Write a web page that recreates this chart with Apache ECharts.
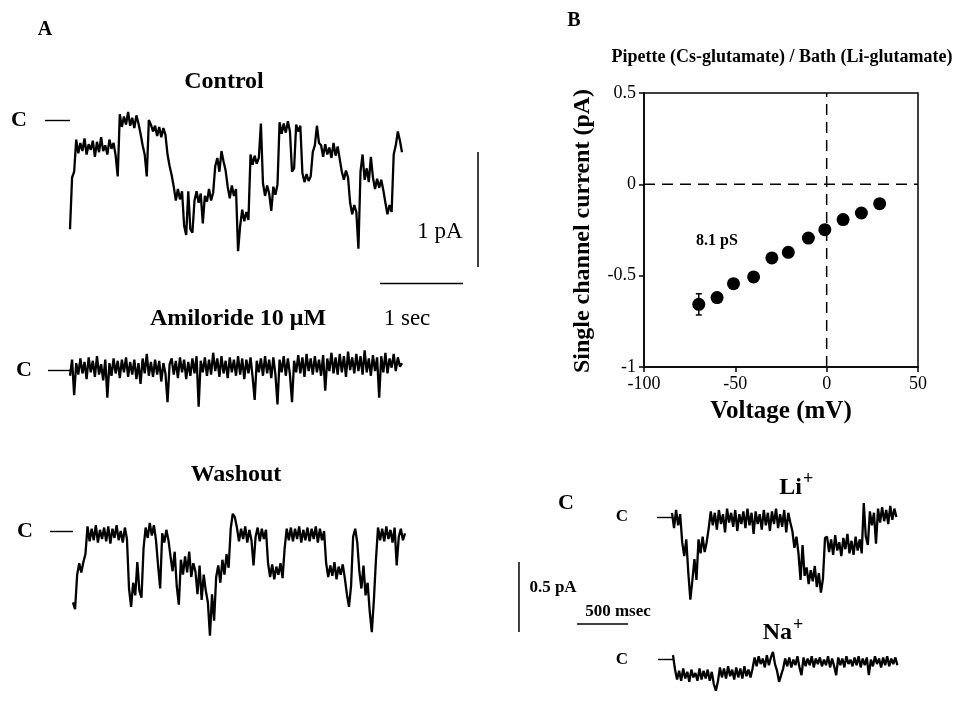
<!DOCTYPE html>
<html>
<head>
<meta charset="utf-8">
<script src="https://cdn.jsdelivr.net/npm/echarts@6/dist/echarts.min.js"></script>
<style>
  html, body { margin: 0; padding: 0; background: #fff; }
  #chart { width: 969px; height: 704px; }
</style>
</head>
<body>
<div id="chart"></div>
<script>
// ---- Panel A: single-channel recordings (pA), sampled every 25 ms ----
const dtA = 0.025;
const controlTrace = [
  -0.95, -0.50, -0.45,
  -0.17, -0.29, -0.20, -0.27, -0.16, -0.30, -0.21, -0.26, -0.18, -0.32, -0.19, -0.28, -0.15, -0.27, -0.22, -0.30, -0.17, -0.25, -0.20, -0.31,
  -0.49,
  0.05, -0.06, 0.03, -0.04, 0.07, -0.05, 0.02, -0.07, 0.04, -0.03,
  -0.12, -0.22, -0.30, -0.49,
  0.00, -0.04, -0.10,
  -0.05, -0.14, -0.06, -0.15, -0.07, -0.13,
  -0.30, -0.40, -0.48,
  -0.58, -0.70, -0.60, -0.69, -0.62,
  -0.92, -1.00, -0.62, -0.95, -0.98, -0.70,
  -0.62, -0.72, -0.64, -0.90, -0.66, -0.71,
  -0.60, -0.70, -0.63,
  -0.40, -0.33, -0.45, -0.27, -0.36, -0.44,
  -0.58, -0.68, -0.57, -0.66, -0.60,
  -1.14, -0.92,
  -0.78, -0.88, -0.80, -0.87,
  -0.30, -0.39, -0.31, -0.38, -0.33,
  -0.03,
  -0.55, -0.66, -0.57, -0.64, -0.79, -0.58, -0.65, -0.56,
  -0.02, -0.12, -0.03, -0.11, -0.01, -0.10,
  -0.45, -0.42,
  -0.04, -0.10, -0.05,
  -0.46, -0.54, -0.47, -0.53, -0.49,
  -0.28, -0.22, -0.05, -0.20,
  -0.22, -0.32, -0.21, -0.30, -0.24, -0.33, -0.20, -0.31, -0.23, -0.34,
  -0.45, -0.52, -0.44, -0.50,
  -0.72, -0.82, -0.74, -0.80,
  -1.12,
  -0.45, -0.30, -0.52, -0.42, -0.54, -0.32,
  -0.50, -0.60, -0.51, -0.59, -0.52, -0.61,
  -0.72, -0.82, -0.74, -0.80,
  -0.30, -0.22,
  -0.10, -0.18, -0.28
];
const amilorideTrace = [
  -0.05, 0.09, -0.22, 0.06, -0.04, 0.10, -0.03, 0.07, -0.08, 0.11,
  -0.02, 0.08, -0.06, 0.12, -0.04, 0.05, -0.09, 0.09, -0.24, 0.06,
  -0.05, 0.10, -0.03, 0.08, -0.07, 0.09, -0.02, 0.11, -0.06, 0.07,
  -0.04, 0.09, -0.08, 0.06, -0.12, 0.10, -0.03, 0.14, -0.05, 0.07,
  -0.06, 0.09, -0.04, 0.08, -0.10, 0.06, -0.03, -0.28, 0.05, 0.10,
  -0.04, 0.08, -0.07, 0.11, -0.02, 0.09, -0.08, 0.07, -0.05, 0.10,
  -0.03, 0.12, -0.32, 0.08, -0.02, 0.11, -0.05, 0.09, -0.04, 0.15,
  -0.01, 0.10, -0.06, 0.12, -0.03, 0.08, -0.07, 0.11, -0.02, 0.09,
  -0.05, 0.12, -0.04, 0.10, -0.08, 0.09, -0.03, 0.11, -0.06, -0.26,
  0.08, -0.02, 0.10, -0.05, 0.12, -0.03, 0.09, -0.07, 0.11, -0.04,
  -0.30, 0.09, -0.02, 0.12, -0.05, 0.10, -0.04, -0.28, 0.08, -0.02,
  0.13, -0.03, 0.11, -0.06, 0.14, -0.01, 0.10, -0.04, 0.12, -0.02,
  0.09, -0.05, 0.13, -0.18, 0.10, -0.01, 0.15, -0.03, 0.11, -0.04,
  0.14, -0.02, 0.12, -0.06, 0.16, 0.00, 0.11, -0.03, 0.14, -0.01,
  0.12, -0.04, 0.17, -0.02, 0.10, -0.05, 0.13, -0.01, 0.11, -0.24,
  0.12, -0.02, 0.15, -0.03, 0.10, 0.02, 0.14, -0.01, 0.11, 0.03,
  0.06
];
const washoutTrace = [
  -0.62, -0.68, -0.38, -0.28, -0.36, -0.27, -0.20,
  0.04, -0.09, 0.02, -0.08, 0.05, -0.10, 0.01, -0.07, 0.03, -0.09, 0.04, -0.11, 0.02, -0.06, 0.05, -0.08, 0.00, -0.10, 0.03, -0.07,
  -0.50, -0.66,
  -0.45, -0.56, -0.27, -0.52, -0.58,
  -0.15,
  0.03, -0.06, 0.07, -0.04, 0.05, -0.08,
  -0.30, -0.50,
  -0.02, -0.10, 0.01, -0.08,
  -0.22, -0.35, -0.18,
  -0.48, -0.64,
  -0.25, -0.38, -0.22, -0.36, -0.18, -0.40, -0.28,
  -0.35, -0.55, -0.30, -0.60, -0.38, -0.52,
  -0.62, -0.91, -0.55, -0.78,
  -0.40, -0.30, -0.45, -0.25, -0.38, -0.20, -0.32,
  0.02, 0.15, 0.12,
  0.03, -0.09, 0.02, -0.07, 0.04, -0.10, 0.01, -0.08, -0.30, -0.05, 0.03, -0.09, 0.02, -0.07, 0.01,
  -0.28, -0.40, -0.29, -0.42, -0.31,
  -0.38, -0.28, -0.41,
  -0.15,
  0.02, -0.08, 0.03, -0.09, 0.02, -0.07, 0.04, -0.10, 0.01, -0.08, 0.03, -0.09, 0.02, -0.07, 0.04, -0.10, 0.02, -0.08, 0.00,
  -0.28, -0.40, -0.30, -0.39, -0.27, -0.42, -0.31, -0.38, -0.29, -0.41,
  -0.55, -0.66, -0.48,
  -0.05, 0.02, -0.10,
  -0.35, -0.50, -0.30, -0.56,
  -0.45, -0.70, -0.88, -0.60,
  -0.25,
  0.03, -0.08, 0.02, -0.09, 0.04, -0.07, 0.01, -0.10, 0.03, -0.30, -0.05,
  0.02, -0.08, -0.02
];

// ---- Panel B: current-voltage relation ----
const voltages = [-70, -60, -51, -40, -30, -21, -10, -1, 9, 19, 29];
const currents = [-0.657, -0.620, -0.544, -0.507, -0.403, -0.372, -0.294, -0.248, -0.193, -0.157, -0.106];
const currentSem = [0.058, 0, 0, 0, 0, 0, 0, 0, 0, 0, 0];
const xTicks = { min: -100, max: 50, step: 50 };
const yTicks = { min: -1, max: 0.5, step: 0.5 };

// ---- Panel C: Li+ and Na+ bath recordings (pA), sampled every 20 ms ----
const dtC = 0.02;
const liTrace = [
  0.03, -0.08, 0.05, -0.06, 0.02,
  -0.18, -0.28, -0.16,
  -0.40, -0.59, -0.45,
  -0.30, -0.45,
  -0.16, -0.26, -0.14, -0.25, -0.18,
  -0.08,
  0.04, -0.06, 0.03, -0.09, 0.05, -0.05, 0.02, -0.11, 0.06, -0.04,
  0.03, -0.07, 0.05, -0.10, 0.02, -0.05, 0.04, -0.08, 0.06, -0.06,
  0.03, -0.12, 0.04, -0.05, 0.02, -0.09, 0.05, -0.06, 0.03, -0.10,
  0.04, -0.05, 0.06, -0.08, 0.02, -0.07, 0.05, -0.11, 0.03, -0.04,
  -0.10, -0.22, -0.14,
  -0.26, -0.45, -0.20, -0.42,
  -0.36, -0.48, -0.38, -0.46, -0.35, -0.50, -0.40, -0.54, -0.44,
  -0.15,
  -0.14, -0.25, -0.16, -0.27, -0.13, -0.24, -0.18, -0.28, -0.15, -0.23, -0.12, -0.26, -0.17, -0.27, -0.14, -0.24, -0.16, -0.26,
  0.10,
  -0.14, -0.20,
  0.04, -0.06, 0.03, -0.19,
  0.06, -0.04, 0.07, -0.03, 0.05, -0.05, 0.08, -0.02, 0.06, 0.00
];
const naTrace = [
  0.04,
  -0.09, -0.18, -0.10, -0.19, -0.08, -0.17, -0.11, -0.20, -0.09, -0.16, -0.12, -0.19, -0.08, -0.18, -0.10, -0.17, -0.09, -0.19, -0.11,
  -0.22, -0.28, -0.20,
  -0.07, -0.16, -0.08, -0.17, -0.06, -0.15, -0.09, -0.18, -0.07, -0.16, -0.08, -0.17, -0.06, -0.15, -0.09, -0.16, -0.08,
  0.02, -0.06, 0.03, -0.04, 0.01, -0.07, 0.04, -0.05, 0.02, 0.07, -0.04,
  -0.10, -0.20, -0.14, -0.08,
  0.01, -0.06, 0.02, -0.07, 0.00, -0.05, 0.03, -0.07,
  -0.14, 0.02, -0.06, 0.01, -0.05, 0.03, -0.07, 0.01,
  -0.04, 0.02, -0.06, 0.00, -0.05, 0.03, -0.07, 0.01,
  -0.06, -0.14, 0.02, -0.05, 0.01, -0.07, 0.03, -0.04,
  0.00, -0.06, 0.02, -0.05, 0.03, -0.07, 0.01, -0.05,
  0.02, -0.14, 0.00, -0.06, 0.03, -0.04, 0.01, -0.07,
  0.02, -0.05, 0.03, -0.06, 0.01, -0.04, 0.02, -0.05
];

// Calibration bars: [time (s), current (pA)] end points
const barA_time = [[0.06, -1.204], [1.06, -1.204]];      // 1 sec
const barA_current = [[1.241, -0.061], [1.241, -1.061]];  // 1 pA
const barC_current = [[0.088, -0.086], [0.088, -0.586]];  // 0.5 pA
const barC_time = [[0.657, -0.529], [1.157, -0.529]];     // 500 msec

const SERIF = 'Liberation Serif';
const BLACK = '#000';

function timed(values, dt) { return values.map((v, i) => [i * dt, v]); }

// scale: px per second / px per pA for the trace panels
const grids = [
  { left: 70,  top: 97,     width: 4.1 * 83,  height: 1.45 * 115 },   // 0 control
  { left: 70,  top: 341.25, width: 4.1 * 83,  height: 0.65 * 115 },   // 1 amiloride
  { left: 73,  top: 502.25, width: 4.1 * 83,  height: 1.25 * 115 },   // 2 washout
  { left: 375, top: 145,    width: 1.3 * 83,  height: 1.4 * 115 },    // 3 A calibration
  { left: 644, top: 93,     width: 274,       height: 274,
    show: true, borderColor: BLACK, borderWidth: 1.5, backgroundColor: 'transparent' }, // 4 I-V
  { left: 672, top: 496,    width: 2.25 * 102, height: 0.85 * 140 },  // 5 Li+
  { left: 673, top: 643,    width: 2.25 * 102, height: 0.55 * 140 },  // 6 Na+
  { left: 510, top: 550,    width: 1.2 * 102,  height: 0.7 * 140 }    // 7 C calibration
];

function hiddenX(gridIndex, max) {
  return { gridIndex, type: 'value', min: 0, max, show: false };
}
function closedY(gridIndex, min, max, offset, tickLen, margin, fontSize) {
  return {
    gridIndex, type: 'value', min, max, offset,
    axisLine: { show: false }, splitLine: { show: false },
    axisTick: { show: true, customValues: [0], length: tickLen, lineStyle: { color: BLACK, width: 1.4 } },
    axisLabel: { show: true, customValues: [0], formatter: () => 'C', margin,
      fontFamily: SERIF, fontWeight: 'bold', fontSize, color: BLACK }
  };
}
function hiddenY(gridIndex, min, max) {
  return { gridIndex, type: 'value', min, max, show: false };
}
function traceSeries(idx, values, dt) {
  return { type: 'line', xAxisIndex: idx, yAxisIndex: idx, data: timed(values, dt),
    symbol: 'none', silent: true, lineStyle: { color: BLACK, width: 2.3, join: 'bevel' } };
}
function barSeries(idx, pts) {
  return { type: 'line', xAxisIndex: idx, yAxisIndex: idx, data: pts,
    symbol: 'none', silent: true, lineStyle: { color: BLACK, width: 1.5 } };
}

const ivAxisLabel = { fontFamily: SERIF, fontSize: 18, color: BLACK, margin: 8 };
const ivAxisLine = { show: true, onZero: false, lineStyle: { color: BLACK, width: 1.5 } };
const ivTick = { show: true, inside: false, length: 5, lineStyle: { color: BLACK, width: 1.5 } };
const zeroDash = { color: BLACK, width: 1.5, type: [11, 7] };
const textStyle = (font, align) => ({ font, fill: BLACK, align: align || 'center', verticalAlign: 'middle' });

const option = {
  animation: false,
  backgroundColor: '#fff',
  grid: grids,
  xAxis: [
    hiddenX(0, 4.1), hiddenX(1, 4.1), hiddenX(2, 4.1), hiddenX(3, 1.3),
    { gridIndex: 4, type: 'value', min: xTicks.min, max: xTicks.max, interval: xTicks.step,
      axisLine: ivAxisLine, axisTick: ivTick, axisLabel: ivAxisLabel, splitLine: { show: false },
      name: 'Voltage (mV)', nameLocation: 'middle', nameGap: 32,
      nameTextStyle: { fontFamily: SERIF, fontWeight: 'bold', fontSize: 25, color: BLACK } },
    hiddenX(5, 2.25), hiddenX(6, 2.25), hiddenX(7, 1.2)
  ],
  yAxis: [
    closedY(0, -1.25, 0.2, 8, 25, 35, 22),
    closedY(1, -0.4, 0.25, 10, 22, 28, 22),
    closedY(2, -1.0, 0.25, 10, 23, 30, 22),
    hiddenY(3, -1.4, 0),
    { gridIndex: 4, type: 'value', min: yTicks.min, max: yTicks.max, interval: yTicks.step,
      axisLine: ivAxisLine, axisTick: ivTick, axisLabel: ivAxisLabel, splitLine: { show: false } },
    closedY(5, -0.7, 0.15, 15, 15, 29, 17),
    closedY(6, -0.4, 0.15, 16, 15, 29, 17),
    hiddenY(7, -0.7, 0)
  ],
  series: [
    traceSeries(0, controlTrace, dtA),
    traceSeries(1, amilorideTrace, dtA),
    traceSeries(2, washoutTrace, dtA),
    barSeries(3, barA_time),
    barSeries(3, barA_current),
    // dashed zero lines across the I-V box
    { type: 'line', xAxisIndex: 4, yAxisIndex: 4, silent: true, symbol: 'none', z: 1,
      data: [[0, yTicks.min], [0, yTicks.max]], lineStyle: zeroDash },
    { type: 'line', xAxisIndex: 4, yAxisIndex: 4, silent: true, symbol: 'none', z: 1,
      data: [[xTicks.min, 0], [xTicks.max, 0]], lineStyle: zeroDash },
    {
      type: 'scatter', xAxisIndex: 4, yAxisIndex: 4, z: 3,
      data: voltages.map((v, i) => [v, currents[i]]),
      symbol: 'circle', symbolSize: 13, itemStyle: { color: BLACK, opacity: 1 }, silent: true
    },
    {
      type: 'custom', xAxisIndex: 4, yAxisIndex: 4, silent: true, z: 2,
      data: voltages.map((v, i) => [v, currents[i] - currentSem[i], currents[i] + currentSem[i]])
        .filter((d, i) => currentSem[i] > 0),
      renderItem: (params, api) => {
        const lo = api.coord([api.value(0), api.value(1)]);
        const hi = api.coord([api.value(0), api.value(2)]);
        const cap = 3;
        const st = { stroke: BLACK, lineWidth: 1.5 };
        return { type: 'group', children: [
          { type: 'line', shape: { x1: lo[0], y1: lo[1], x2: hi[0], y2: hi[1] }, style: st },
          { type: 'line', shape: { x1: lo[0] - cap, y1: lo[1], x2: lo[0] + cap, y2: lo[1] }, style: st },
          { type: 'line', shape: { x1: hi[0] - cap, y1: hi[1], x2: hi[0] + cap, y2: hi[1] }, style: st }
        ] };
      }
    },
    traceSeries(5, liTrace, dtC),
    traceSeries(6, naTrace, dtC),
    barSeries(7, barC_current),
    barSeries(7, barC_time)
  ],
  graphic: [
    { type: 'text', x: 45, y: 30, style: textStyle(`bold 20px "${SERIF}"`) },
    { type: 'text', x: 574, y: 21, style: textStyle(`bold 20px "${SERIF}"`) },
    { type: 'text', x: 782, y: 57, style: textStyle(`bold 18px "${SERIF}"`) },
    { type: 'text', x: 583, y: 231, rotation: Math.PI / 2, style: textStyle(`bold 24px "${SERIF}"`) },
    { type: 'text', x: 717, y: 241, style: textStyle(`bold 16px "${SERIF}"`) },
    { type: 'text', x: 224, y: 82, style: textStyle(`bold 24px "${SERIF}"`) },
    { type: 'text', x: 238, y: 319, style: textStyle(`bold 24px "${SERIF}"`) },
    { type: 'text', x: 236, y: 475, style: textStyle(`bold 24px "${SERIF}"`) },
    { type: 'text', x: 440, y: 232, style: textStyle(`23px "${SERIF}"`) },
    { type: 'text', x: 407, y: 319, style: textStyle(`23px "${SERIF}"`) },
    { type: 'text', x: 566, y: 503, style: textStyle(`bold 22px "${SERIF}"`) },
    { type: 'text', x: 802, y: 488, style: textStyle(`bold 24px "${SERIF}"`, 'right') },
    { type: 'text', x: 803, y: 479, style: textStyle(`bold 18px "${SERIF}"`, 'left') },
    { type: 'text', x: 792, y: 633, style: textStyle(`bold 24px "${SERIF}"`, 'right') },
    { type: 'text', x: 793, y: 625, style: textStyle(`bold 18px "${SERIF}"`, 'left') },
    { type: 'text', x: 553, y: 588, style: textStyle(`bold 17px "${SERIF}"`) },
    { type: 'text', x: 618, y: 612, style: textStyle(`bold 17px "${SERIF}"`) }
  ]
};

// text content of the annotations above, in the same order
const annotationTexts = [
  'A', 'B', 'Pipette (Cs-glutamate) / Bath (Li-glutamate)', 'Single channel current (pA)', '8.1 pS',
  'Control', 'Amiloride 10 μM', 'Washout', '1 pA', '1 sec',
  'C', 'Li', '+', 'Na', '+', '0.5 pA', '500 msec'
];
option.graphic.forEach((g, i) => { g.style.text = annotationTexts[i]; });

const chart = echarts.init(document.getElementById('chart'), null, { renderer: 'canvas' });
chart.setOption(option);
</script>
</body>
</html>
